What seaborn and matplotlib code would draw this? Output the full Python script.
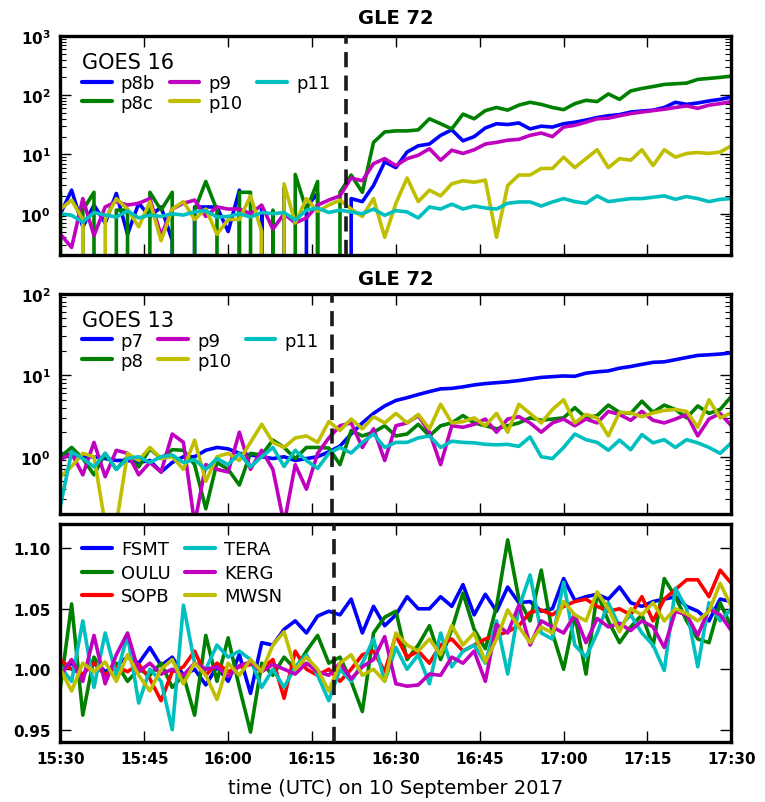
import numpy as np
import pandas as pd
import matplotlib
matplotlib.use('Agg')
import matplotlib.pyplot as plt
import matplotlib.dates as mdates
from matplotlib.lines import Line2D
from matplotlib.ticker import LogLocator, FuncFormatter, NullFormatter, FormatStrFormatter, FixedLocator
import seaborn as sns

# ---------------------------------------------------------------
# data (2-minute samples, 15:30 - 17:30 UTC on 10 September 2017)
# ---------------------------------------------------------------
times = pd.date_range('2017-09-10 15:30', '2017-09-10 17:30', freq='2min')

onset_goes16 = pd.Timestamp('2017-09-10 16:21')
onset_goes13 = pd.Timestamp('2017-09-10 16:18:30')
onset_nm = pd.Timestamp('2017-09-10 16:19')

# GOES 16 channels
g16_names = ['p8b', 'p8c', 'p9', 'p10', 'p11']
g16_p8b = [1.0, 2.5, 0.6, 1.4, 0.7, 2.2, 0.45, 1.5, 0.9, 1.3, 0.35, 0, 1.3, 1.3, 1.3, 0.5,
           2.5, 0, 1.3, 0, 2.7, 0, 1.3, 2.2, 0, 0,
           1.8, 1.6, 3.0, 7.5, 6.0, 11, 14, 15, 21, 26, 17, 20, 28, 33, 32, 34, 27, 30, 29,
           33, 35, 38, 42, 45, 47, 52, 54, 56, 62, 76, 70, 74, 80, 85, 93]
g16_p8c = [2.3, 0, 1.15, 2.3, 0, 1.15, 1.15, 0, 2.3, 1.15, 2.3, 0, 1.15, 3.5, 1.15, 0,
           2.3, 2.3, 0, 1.15, 0, 4.6, 1.15, 3.5, 0, 2.3,
           4.5, 2.3, 16, 24, 25, 25, 26, 40, 33, 27, 48, 40, 55, 62, 56, 68, 76, 70, 62,
           57, 72, 82, 78, 105, 85, 118, 130, 140, 152, 156, 160, 185, 192, 200, 210]
g16_p9 = [0.45, 0.27, 1.8, 0.43, 1.3, 1.6, 1.4, 1.5, 1.8, 0.43, 1.2, 1.5, 1.7, 0.9, 1.3,
          1.2, 1.2, 1.0, 1.4, 0.55, 1.0, 0.7, 0.85, 1.4, 1.7, 2.0,
          4.0, 3.6, 7.0, 8.5, 6.5, 8.5, 9.7, 12.5, 8, 11.8, 10.4, 12, 15, 16, 17.4, 18,
          21, 23, 20, 29, 31, 35, 40, 41, 45, 49, 52, 55, 58, 62, 66, 60, 68, 72, 78]
g16_p10 = [1.2, 1.7, 0.8, 0, 0.8, 1.8, 1.2, 0.6, 1.6, 0.35, 1.2, 1.6, 0.8, 1.2, 0.45, 0.8,
           0.8, 2.0, 0.5, 0, 3.2, 0.7, 1.8, 1.1, 1.4, 1.7,
           1.2, 0.9, 1.8, 0.4, 1.5, 4.0, 1.6, 2.5, 2.0, 3.2, 3.6, 3.4, 3.7, 0.4, 3.0, 4.5,
           4.5, 5.8, 5.8, 9.0, 6.0, 8.5, 12.0, 6.0, 8.5, 8.0, 12.0, 6.5, 12.0, 9.0, 10.4,
           10.8, 10.4, 11.0, 14.0]
g16_p11 = [1.0, 0.94, 0.72, 1.05, 0.95, 0.88, 1.12, 0.85, 0.95, 0.9, 1.0, 0.95, 1.08, 1.12,
           0.88, 0.9, 1.0, 0.88, 1.05, 1.0, 1.05, 0.78, 1.15, 1.25, 1.05, 1.15,
           1.07, 1.0, 1.2, 0.94, 1.13, 1.07, 0.85, 1.3, 1.2, 1.45, 1.2, 1.35, 1.25, 1.2,
           1.5, 1.58, 1.58, 1.35, 1.58, 1.8, 1.6, 1.5, 2.0, 1.6, 1.7, 1.8, 1.8, 1.9, 2.0,
           1.75, 1.95, 1.8, 1.6, 1.75, 1.8]

# GOES 13 channels
g13_names = ['p7', 'p8', 'p9', 'p10', 'p11']
g13_p7 = [1.1, 1.05, 1.0, 1.0, 0.95, 0.9, 0.9, 0.85, 0.9, 0.65, 0.85, 1.0, 1.0, 1.2, 1.3,
          1.25, 1.1, 1.05, 1.0, 0.95, 1.0, 0.9, 0.95, 1.0, 1.15, 1.35,
          1.9, 2.6, 3.4, 4.2, 4.9, 5.3, 5.8, 6.3, 6.8, 6.9, 7.2, 7.6, 7.9, 8.1, 8.3, 8.6,
          9.0, 9.4, 9.6, 9.8, 9.7, 10.6, 11.0, 11.3, 12.2, 12.8, 13.6, 14.4, 14.6, 15.5,
          16.5, 17.5, 17.8, 18.2, 18.8]
g13_p8 = [1.0, 1.3, 0.95, 0.6, 1.1, 0.7, 1.0, 0.75, 1.25, 0.95, 1.22, 1.2, 0.8, 0.23, 0.85,
          0.7, 0.45, 1.1, 1.05, 1.6, 1.3, 0.95, 1.3, 1.3, 1.28, 0.8,
          2.1, 1.8, 2.0, 2.4, 1.8, 1.9, 2.5, 1.8, 2.4, 2.6, 3.2, 2.6, 2.4, 2.2, 2.4, 2.6,
          3.0, 2.8, 2.9, 3.0, 4.0, 3.0, 3.2, 4.3, 3.5, 3.4, 4.8, 3.5, 4.3, 3.8, 3.0, 4.2,
          3.4, 3.8, 5.5]
g13_p9 = [0.92, 1.1, 0.6, 1.5, 0.57, 1.2, 1.1, 0.6, 0.85, 0.65, 1.9, 1.5, 0.15, 0.8, 0.7,
          0.65, 2.0, 0.7, 1.2, 0.7, 0.15, 0.8, 0.4, 1.1, 1.7, 2.4,
          2.6, 1.3, 2.2, 0.9, 2.4, 2.6, 3.2, 2.0, 0.8, 2.4, 2.3, 2.5, 2.9, 2.0, 2.9, 3.1,
          2.6, 2.0, 2.6, 2.9, 2.4, 2.9, 2.6, 3.6, 3.3, 2.8, 3.6, 2.8, 2.6, 2.9, 3.3, 1.8,
          2.9, 3.4, 2.4]
g13_p10 = [0.57, 0.76, 1.1, 1.0, 0.15, 0.15, 1.1, 0.9, 1.3, 0.95, 1.0, 0.7, 1.6, 0.5, 1.0,
           1.1, 0.9, 1.5, 2.5, 1.5, 1.3, 1.7, 1.8, 1.5, 2.7, 2.1,
           2.9, 2.2, 3.1, 2.6, 3.4, 2.6, 3.3, 2.2, 4.4, 2.6, 2.7, 3.0, 2.4, 3.4, 2.0, 4.4,
           3.4, 2.6, 3.8, 5.0, 2.6, 3.3, 3.0, 1.8, 3.5, 3.45, 3.1, 3.45, 3.7, 3.8, 3.6,
           2.3, 5.0, 3.0, 3.45]
g13_p11 = [0.25, 1.15, 0.95, 0.75, 1.1, 0.7, 0.95, 1.0, 0.85, 1.0, 1.05, 0.85, 0.92, 0.7,
           0.95, 0.8, 1.1, 0.75, 1.0, 1.3, 0.76, 1.2, 0.9, 0.72, 1.1, 1.3,
           1.11, 1.5, 1.9, 1.3, 1.5, 1.5, 1.7, 1.8, 1.3, 1.55, 1.5, 1.48, 1.42, 1.4, 1.42,
           1.34, 1.75, 1.0, 0.95, 1.3, 1.9, 1.62, 1.5, 1.2, 1.6, 1.22, 1.87, 1.48, 1.62,
           1.3, 1.62, 1.48, 1.3, 1.1, 1.48]

# neutron monitor stations (normalised count rate)
nm_names = ['FSMT', 'OULU', 'SOPB', 'TERA', 'KERG', 'MWSN']
nm_fsmt = [1.000, 1.005, 0.995, 1.008, 0.998, 1.003, 1.010, 1.005, 1.018, 1.003,
           1.010, 0.995, 1.000, 0.987, 1.002, 0.990, 1.012, 0.980, 1.022, 1.020,
           1.033, 1.040, 1.030, 1.044, 1.048, 1.045, 1.058, 1.030, 1.052, 1.036,
           1.045, 1.060, 1.050, 1.050, 1.060, 1.052, 1.070, 1.045, 1.062, 1.048,
           1.068, 1.055, 1.056, 1.048, 1.050, 1.075, 1.057, 1.060, 1.062, 1.058,
           1.068, 1.055, 1.052, 1.056, 1.058, 1.060, 1.052, 1.048, 1.040, 1.058, 1.056]
nm_oulu = [0.985, 1.054, 0.962, 1.010, 0.995, 1.005, 0.990, 1.000, 0.995, 1.005,
           0.985, 0.995, 0.962, 1.028, 0.990, 1.026, 0.985, 0.948, 1.005, 0.995,
           1.010, 1.000, 1.015, 1.028, 1.005, 1.010, 0.990, 0.965, 1.030, 1.043,
           1.048, 1.008, 1.020, 1.036, 1.008, 1.033, 1.063, 1.033, 1.017, 1.052,
           1.107, 1.058, 1.040, 1.082, 1.030, 1.000, 1.045, 0.996, 1.063, 1.040,
           1.022, 1.035, 1.045, 1.019, 1.075, 1.060, 1.040, 1.025, 1.022, 1.055, 1.035]
nm_sopb = [1.008, 1.000, 0.996, 1.005, 0.995, 1.002, 0.998, 1.004, 0.992, 0.974,
           0.998, 1.002, 1.015, 0.995, 1.005, 0.998, 1.002, 1.004, 1.000, 1.008,
           0.976, 1.015, 1.000, 0.995, 1.000, 0.990, 1.000, 1.012, 1.015, 0.998,
           1.028, 1.010, 1.015, 1.005, 1.020, 1.025, 1.015, 1.020, 1.025, 1.028,
           1.031, 1.036, 1.047, 1.049, 1.045, 1.052, 1.056, 1.058, 1.052, 1.048,
           1.050, 1.045, 1.060, 1.040, 1.058, 1.066, 1.074, 1.074, 1.060, 1.082, 1.071]
nm_tera = [1.002, 0.990, 1.040, 0.985, 1.030, 0.995, 1.028, 0.972, 1.000, 0.990,
           0.950, 1.053, 1.005, 1.000, 1.020, 1.010, 1.015, 1.008, 0.985, 1.000,
           0.985, 1.002, 1.012, 0.995, 0.974, 1.000, 0.990, 1.005, 1.025, 0.990,
           1.018, 1.000, 1.012, 0.988, 1.030, 1.002, 1.015, 1.020, 1.005, 1.040,
           0.996, 1.051, 1.078, 1.030, 1.025, 1.072, 1.020, 1.010, 1.030, 1.055,
           1.035, 1.045, 1.030, 1.020, 0.999, 1.067, 1.050, 1.002, 1.055, 1.040, 1.050]
nm_kerg = [0.995, 1.008, 0.990, 1.028, 0.988, 1.012, 1.030, 0.998, 1.005, 0.996,
           1.000, 0.995, 1.005, 1.000, 1.002, 0.994, 1.003, 1.006, 0.998, 1.004,
           1.000, 0.996, 1.005, 0.998, 0.995, 1.005, 0.992, 1.002, 1.008, 1.027,
           0.988, 0.986, 0.987, 0.996, 0.995, 1.010, 1.005, 1.015, 0.990, 1.037,
           1.030, 1.053, 1.020, 1.040, 1.035, 1.030, 1.045, 1.022, 1.042, 1.035,
           1.038, 1.032, 1.040, 1.035, 1.018, 1.048, 1.045, 1.028, 1.050, 1.045, 1.032]
nm_mwsn = [1.000, 0.982, 1.005, 0.998, 1.006, 0.990, 1.012, 0.995, 0.982, 1.000,
           1.008, 0.988, 1.005, 0.995, 0.975, 1.005, 0.995, 1.008, 0.998, 1.020,
           1.031, 1.000, 1.010, 1.000, 0.982, 1.005, 1.012, 0.995, 1.000, 0.990,
           1.030, 1.020, 1.015, 1.025, 1.012, 1.036, 1.020, 1.030, 1.006, 1.025,
           1.049, 1.035, 1.022, 1.035, 1.030, 1.056, 1.045, 1.040, 1.064, 1.050,
           1.031, 1.050, 1.045, 1.055, 1.040, 1.050, 1.046, 1.040, 1.048, 1.071, 1.052]

# classic matplotlib single-letter colours
BLUE, GREEN, RED = (0, 0, 1), (0, 0.5, 0), (1, 0, 0)
CYAN, MAGENTA, YELLOW = (0, 0.75, 0.75), (0.75, 0, 0.75), (0.75, 0.75, 0)

# ---------------------------------------------------------------
# style
# ---------------------------------------------------------------
sns.set_theme(style='ticks')
plt.rcParams.update({
    'font.family': ['DejaVu Sans'],
    'font.weight': 'bold',
    'text.color': 'black',
    'axes.labelcolor': 'black',
    'axes.edgecolor': 'black',
    'xtick.color': 'black',
    'ytick.color': 'black',
    'axes.linewidth': 2.4,
    'xtick.direction': 'in',
    'ytick.direction': 'in',
    'xtick.top': True,
    'ytick.right': True,
    'xtick.major.size': 8,
    'ytick.major.size': 8,
    'xtick.minor.size': 4,
    'ytick.minor.size': 4,
    'xtick.major.width': 1.0,
    'ytick.major.width': 1.0,
    'ytick.minor.width': 0.8,
    'xtick.labelsize': 11,
    'ytick.labelsize': 11,
    'xtick.major.pad': 7,
    'ytick.major.pad': 7,
})


def draw_panel(ax, names, series, colors, onset):
    df = pd.DataFrame({'time': times, **dict(zip(names, series))})
    df = df.melt(id_vars='time', var_name='channel', value_name='value')
    sns.lineplot(data=df, x='time', y='value', hue='channel', hue_order=names,
                 palette=dict(zip(names, colors)), ax=ax, legend=False,
                 errorbar=None, linewidth=2.6)
    ax.axvline(onset, color='k', lw=2.6, ls=(0, (4.2, 2.3)), zorder=5)
    ax.set_xlim(times[0], times[-1])
    ax.xaxis.set_major_locator(mdates.MinuteLocator(byminute=[0, 15, 30, 45]))
    ax.xaxis.set_major_formatter(mdates.DateFormatter('%H:%M'))
    ax.set_xlabel('')
    ax.set_ylabel('')
    ax.grid(False)


def log_axis(ax, lo, hi):
    ax.set_yscale('log')
    ax.set_ylim(lo, hi)
    ax.yaxis.set_major_locator(LogLocator(base=10))
    ax.yaxis.set_major_formatter(FuncFormatter(
        lambda v, p: r'$\mathbf{10^{%d}}$' % int(round(np.log10(v)))))
    ax.yaxis.set_minor_locator(LogLocator(base=10, subs=np.arange(2, 10)))
    ax.yaxis.set_minor_formatter(NullFormatter())


def add_legend(ax, names, colors, ncol, title=None, spacing=0.1):
    handles = [Line2D([], [], color=c, lw=3.0) for c in colors]
    kw = dict(ncol=ncol, loc='upper left', bbox_to_anchor=(0.008, 1.0), frameon=False,
              prop={'weight': 'normal', 'size': 13},
              handlelength=1.65, handletextpad=0.5, columnspacing=0.8,
              labelspacing=spacing, borderaxespad=0.5, alignment='left')
    if title:
        kw['title'] = title
        kw['title_fontproperties'] = {'weight': 'normal', 'size': 15}
    ax.legend(handles, names, **kw)


fig = plt.figure(figsize=(7.65, 8.03), dpi=100)
ax1 = fig.add_axes([0.079, 0.681, 0.877, 0.273])
ax2 = fig.add_axes([0.079, 0.359, 0.877, 0.274])
ax3 = fig.add_axes([0.079, 0.075, 0.877, 0.271])

# GOES 16
colors16 = [BLUE, GREEN, MAGENTA, YELLOW, CYAN]
draw_panel(ax1, g16_names, [g16_p8b, g16_p8c, g16_p9, g16_p10, g16_p11], colors16, onset_goes16)
log_axis(ax1, 0.2, 1000)
ax1.tick_params(axis='x', labelbottom=False)
ax1.set_title('GLE 72', fontweight='bold', fontsize=14, pad=9)
add_legend(ax1, g16_names, colors16, ncol=3, title='GOES 16')

# GOES 13
colors13 = [BLUE, GREEN, MAGENTA, YELLOW, CYAN]
draw_panel(ax2, g13_names, [g13_p7, g13_p8, g13_p9, g13_p10, g13_p11], colors13, onset_goes13)
log_axis(ax2, 0.2, 100)
ax2.tick_params(axis='x', labelbottom=False)
ax2.set_title('GLE 72', fontweight='bold', fontsize=14, pad=7)
add_legend(ax2, g13_names, colors13, ncol=3, title='GOES 13')

# neutron monitors
colors_nm = [BLUE, GREEN, RED, CYAN, MAGENTA, YELLOW]
draw_panel(ax3, nm_names, [nm_fsmt, nm_oulu, nm_sopb, nm_tera, nm_kerg, nm_mwsn],
           colors_nm, onset_nm)
ax3.set_ylim(0.94, 1.12)
ax3.yaxis.set_major_locator(FixedLocator([0.95, 1.00, 1.05, 1.10]))
ax3.yaxis.set_major_formatter(FormatStrFormatter('%.2f'))
ax3.set_xlabel('time (UTC) on 10 September 2017', fontsize=14, fontweight='normal', labelpad=8)
add_legend(ax3, nm_names, colors_nm, ncol=2, spacing=0.3)

fig.savefig('out.png', dpi=100)
